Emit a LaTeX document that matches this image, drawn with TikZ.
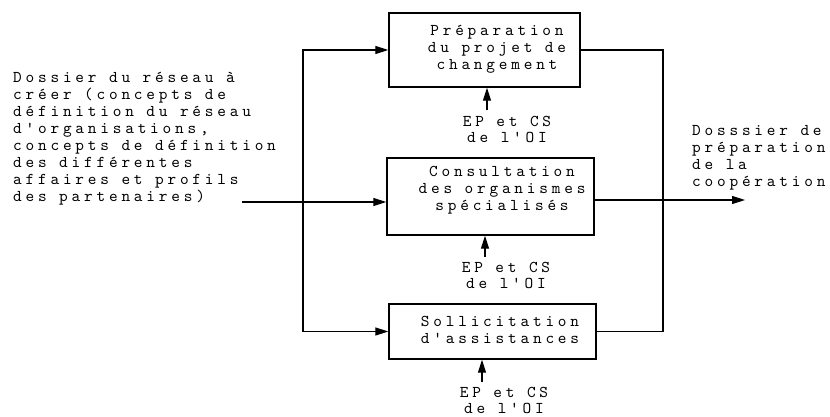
\documentclass[tikz,border=0pt]{standalone}
\usepackage{fontspec}
\usetikzlibrary{arrows.meta}
\providecommand{\InputLine}{202}
\providecommand{\SplitX}{303}
\providecommand{\JoinX}{663}
\providecommand{\OutputLine}{200}
\newfontfamily\diagfont[LetterSpace=23]{lmmono10-regular.otf}
\tikzset{
    procbox/.style={draw, line width=1.4pt, inner sep=0pt},
    boxtext/.style={align=center, inner sep=0pt, font=\diagfont\fontsize{16.5}{17}\selectfont},
    sidetext/.style={align=left, inner sep=0pt, font=\diagfont\fontsize{16.5}{17}\selectfont},
    ctrltext/.style={align=center, inner sep=0pt, font=\diagfont\fontsize{16.5}{16}\selectfont},
    wire/.style={line width=1.2pt},
    flow/.style={line width=1.2pt, -{Triangle[length=13pt,width=8pt]}},
}

\begin{document}
\begin{tikzpicture}[x=1pt,y=-1pt]

% Page background
\useasboundingbox (0,0) rectangle (830,417);
\fill[white] (0,0) rectangle (830,417);

% =====================================================
% PROCESS BOXES
% =====================================================
\node[procbox, minimum width=191pt, minimum height=74pt] (boxprep) at (484.5,50) {};
\node[procbox, minimum width=207pt, minimum height=77pt] (boxcons) at (490.5,196.5) {};
\node[procbox, minimum width=207pt, minimum height=55pt] (boxsoll) at (492.5,331.5) {};

\node[boxtext] (txtprep) at (497,49) {Préparation\\du projet de\\changement};
\node[boxtext] (txtcons) at (502,190.5) {Consultation\\des organismes\\spécialisés};
\node[boxtext] (txtsoll) at (500,330) {Sollicitation\\d'assistances};

% =====================================================
% CONTROLS (below each box)
% =====================================================
\node[ctrltext, anchor=north] (lblprep) at (507,116) {EP et CS\\de l'OI};
\node[ctrltext, anchor=north] (lblcons) at (506,262) {EP et CS\\de l'OI};
\node[ctrltext, anchor=north] (lblsoll) at (504,387) {EP et CS\\de l'OI};

\draw[flow] ([xshift=-20pt,yshift=6pt]lblprep.north) -- ([xshift=-20pt]lblprep.north |- boxprep.south);
\draw[flow] ([xshift=-21pt,yshift=5pt]lblcons.north) -- ([xshift=-21pt]lblcons.north |- boxcons.south);
\draw[flow] ([xshift=-22pt,yshift=5pt]lblsoll.north) -- ([xshift=-22pt]lblsoll.north |- boxsoll.south);

% =====================================================
% INPUT FILE
% =====================================================
\node[sidetext, anchor=north west] (intext) at (13,72) {Dossier du réseau à\\créer (concepts de\\définition du réseau\\d'organisations,\\concepts de définition\\des différentes\\affaires et profils\\des partenaires)};

\coordinate (intail) at (242,\InputLine);
\coordinate (split) at (\SplitX,\InputLine);

\draw[wire] (intail) -- (split);
\draw[flow] (split) -- (split -| boxcons.west);
\draw[flow] (split) |- (boxprep);
\draw[flow] (split) |- (boxsoll);

% =====================================================
% OUTPUT FILE
% =====================================================
\node[sidetext, anchor=north west] (outtext) at (692,125) {Dosssier de\\préparation\\de la\\coopération};

\coordinate (join) at (\JoinX,\OutputLine);
\coordinate (outhead) at (745,\OutputLine);

\draw[wire] (boxprep.east) -| (join);
\draw[wire] (boxsoll.east) -| (join);
\draw[flow] (boxcons.east |- join) -- (outhead);

\end{tikzpicture}
\end{document}
